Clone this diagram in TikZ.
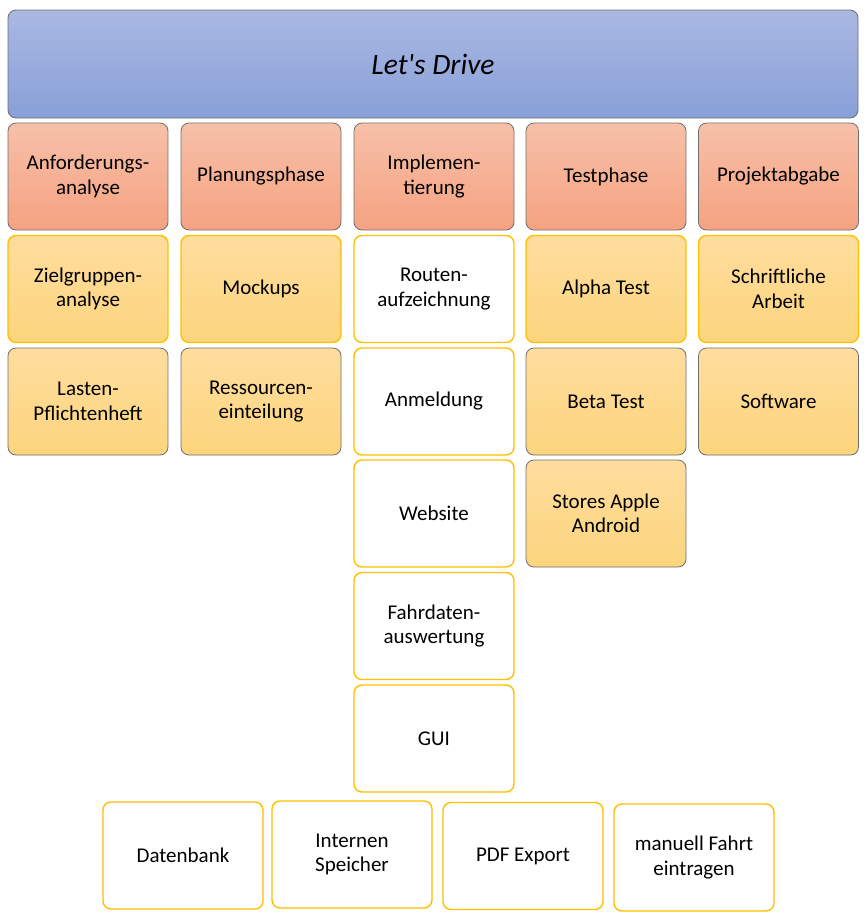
\documentclass[tikz,border=0pt]{standalone}
\usepackage{fontspec}
\setmainfont{Carlito}
\usepackage{textcomp}
\usepackage{tikz}
\usetikzlibrary{positioning}

\definecolor{titletop}{HTML}{AAB8E2}
\definecolor{titlebot}{HTML}{88A0D8}
\definecolor{phasetop}{HTML}{F7C0A8}
\definecolor{phasebot}{HTML}{F5A281}
\definecolor{tasktop}{HTML}{FEDD9E}
\definecolor{taskbot}{HTML}{FDD57D}
\definecolor{taskline}{HTML}{FFC000}
\definecolor{boxline}{HTML}{6E6E6E}

\begin{document}
\begin{tikzpicture}[x=1pt, y=-1pt,
	box/.style={rounded corners=8pt, minimum width=160pt, minimum height=107pt,
		align=center, inner sep=2pt, font=\fontsize{21}{24.5}\selectfont},
	titlebox/.style={box, draw=boxline, line width=0.8pt, top color=titletop, bottom color=titlebot,
		minimum width=850pt, minimum height=108pt, font=\fontsize{29.5}{34}\selectfont\itshape},
	phasebox/.style={box, draw=boxline, line width=0.8pt, top color=phasetop, bottom color=phasebot},
	taskbox/.style={box, draw=boxline, line width=0.8pt, top color=tasktop, bottom color=taskbot},
	taskboxy/.style={box, draw=taskline, line width=1.4pt, top color=tasktop, bottom color=taskbot},
	subbox/.style={box, draw=taskline, line width=1.4pt, fill=white}]
	\useasboundingbox (0,0) rectangle (867,922);
	
	% -- Project title --
	\node[titlebox] (drive) at (433,64) {Let\textquotesingle s Drive};
	
	% -- Phases --
	\node[phasebox] (anf) at (88,176.5) {Anforderungs-\\analyse};
	\node[phasebox] (plan) at (261,176.5) {Planungsphase};
	\node[phasebox] (impl) at (434,176.5) {Implemen-\\tierung};
	\node[phasebox] (test) at (606,176.5) {Testphase};
	\node[phasebox] (abg) at (778.5,176.5) {Projektabgabe};
	
	% -- Anforderungsanalyse --
	\node[taskboxy] (ziel) at (88,289) {Zielgruppen-\\analyse};
	\node[taskbox] (lasten) at (88,401.5) {Lasten-\\Pflichtenheft};
	
	% -- Planungsphase --
	\node[taskboxy] (mock) at (261,289) {Mockups};
	\node[taskbox] (ress) at (261,401.5) {Ressourcen-\\einteilung};
	
	% -- Implementierung --
	\node[subbox] (route) at (434,289) {Routen-\\aufzeichnung};
	\node[subbox] (anm) at (434,401.5) {Anmeldung};
	\node[subbox] (web) at (434,513.5) {Website};
	\node[subbox] (fahrd) at (434,626) {Fahrdaten-\\auswertung};
	\node[subbox] (gui) at (434,738.5) {GUI};
	\node[subbox] (db) at (183,855.5) {Datenbank};
	\node[subbox] (speicher) at (352,854.5) {Internen\\Speicher};
	\node[subbox] (pdf) at (523,856) {PDF Export};
	\node[subbox] (manuell) at (694,857.5) {manuell Fahrt\\eintragen};
	
	% -- Testphase --
	\node[taskboxy] (alpha) at (606,289) {Alpha Test};
	\node[taskbox] (beta) at (606,401.5) {Beta Test};
	\node[taskbox] (stores) at (606,513.5) {Stores Apple\\Android};
	
	% -- Projektabgabe --
	\node[taskboxy] (arbeit) at (778.5,289) {Schriftliche\\Arbeit};
	\node[taskbox] (soft) at (778.5,401.5) {Software};
\end{tikzpicture}
\end{document}
